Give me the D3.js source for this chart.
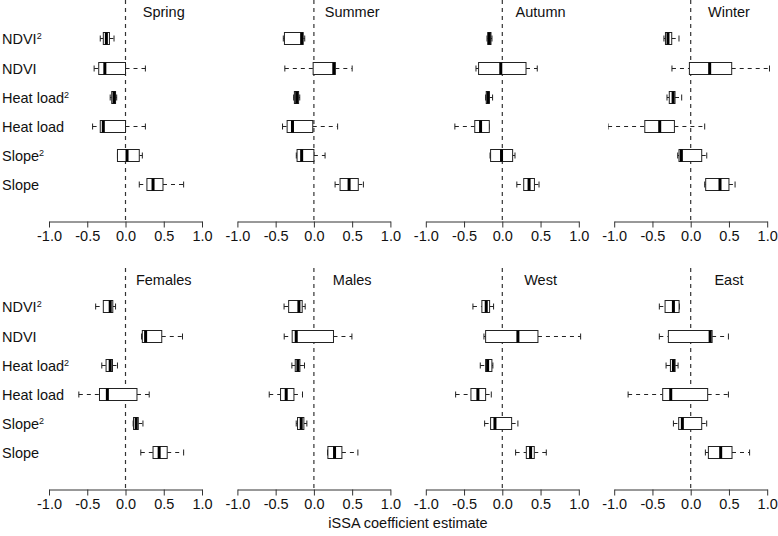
<!DOCTYPE html>
<html lang="en">
<head>
<meta charset="utf-8">
<script src="https://d3js.org/d3.v7.min.js"></script>
<style>
  body { margin: 0; background: #fff; }
  text { font-family: "Liberation Sans", Arial, sans-serif; fill: #111; }
</style>
</head>
<body>
<div id="chart"></div>
<script>
// panel names (row by row)
var panels = ["Spring", "Summer", "Autumn", "Winter", "Females", "Males", "West", "East"];
// covariates, top to bottom
var covariates = ["NDVI", "NDVI", "Heat load", "Heat load", "Slope", "Slope"];
var squared = [true, false, true, false, true, false];
var ticks = [-1, -0.5, 0, 0.5, 1];

// box stats per covariate: [lower whisker, q1, median, q3, upper whisker]
var spring = [
  [-0.33, -0.29, -0.25, -0.21, -0.15],
  [-0.41, -0.35, -0.27, 0.0, 0.26],
  [-0.20, -0.18, -0.15, -0.13, -0.115],
  [-0.43, -0.33, -0.29, 0.0, 0.26],
  [-0.105, -0.105, 0.02, 0.18, 0.22],
  [0.18, 0.28, 0.36, 0.49, 0.76]
];
var summer = [
  [-0.40, -0.385, -0.16, -0.14, -0.12],
  [-0.38, -0.01, 0.26, 0.28, 0.50],
  [-0.265, -0.255, -0.225, -0.20, -0.185],
  [-0.41, -0.35, -0.28, -0.015, 0.31],
  [-0.23, -0.22, -0.16, 0.0, 0.146],
  [0.277, 0.342, 0.46, 0.58, 0.647]
];
var autumn = [
  [-0.20, -0.19, -0.17, -0.148, -0.135],
  [-0.344, -0.31, -0.02, 0.31, 0.457],
  [-0.218, -0.21, -0.185, -0.17, -0.127],
  [-0.62, -0.36, -0.284, -0.17, -0.17],
  [-0.16, -0.153, -0.01, 0.135, 0.166],
  [0.19, 0.28, 0.35, 0.42, 0.48]
];
var winter = [
  [-0.35, -0.33, -0.297, -0.248, -0.153],
  [-0.245, -0.017, 0.248, 0.536, 1.03],
  [-0.31, -0.28, -0.23, -0.205, -0.118],
  [-1.08, -0.60, -0.405, -0.213, 0.183],
  [-0.17, -0.153, -0.122, 0.144, 0.21],
  [0.183, 0.196, 0.383, 0.50, 0.58]
];
var females = [
  [-0.39, -0.29, -0.20, -0.166, -0.13],
  [0.21, 0.22, 0.263, 0.474, 0.745],
  [-0.31, -0.254, -0.20, -0.17, -0.105],
  [-0.61, -0.34, -0.237, 0.15, 0.31],
  [0.10, 0.105, 0.14, 0.167, 0.228],
  [0.20, 0.36, 0.44, 0.545, 0.76]
];
var males = [
  [-0.39, -0.33, -0.196, -0.153, -0.114],
  [-0.388, -0.284, -0.231, 0.256, 0.497],
  [-0.288, -0.244, -0.209, -0.183, -0.123],
  [-0.584, -0.436, -0.362, -0.261, -0.149],
  [-0.231, -0.214, -0.166, -0.131, -0.092],
  [0.178, 0.183, 0.27, 0.366, 0.575]
];
var west = [
  [-0.384, -0.267, -0.21, -0.166, -0.114],
  [-0.24, -0.218, 0.204, 0.466, 1.024],
  [-0.288, -0.218, -0.192, -0.136, -0.123],
  [-0.61, -0.41, -0.319, -0.218, -0.144],
  [-0.231, -0.153, -0.096, 0.122, 0.204],
  [0.174, 0.314, 0.37, 0.418, 0.575]
];
var east = [
  [-0.41, -0.335, -0.226, -0.152, -0.148],
  [-0.41, -0.292, 0.254, 0.28, 0.493],
  [-0.322, -0.265, -0.226, -0.204, -0.165],
  [-0.818, -0.366, -0.261, 0.222, 0.493],
  [-0.226, -0.157, -0.109, 0.144, 0.209],
  [0.192, 0.231, 0.392, 0.54, 0.77]
];
var stats = [spring, summer, autumn, winter, females, males, west, east];

var width = 778, height = 536;
var panelW = 153, panelStep = 188.4, left = 49;
var rowStep = 268;
var boxH = 12, capH = 6;
var ink = "#222";

var svg = d3.select("#chart").append("svg")
  .attr("width", width)
  .attr("height", height);

var defs = svg.append("defs");

panels.forEach(function(name, p) {
  var col = p % 4, row = Math.floor(p / 4);
  var x0 = left + col * panelStep;
  var top = row * rowStep;

  var x = d3.scaleLinear().domain([-1, 1]).range([x0, x0 + panelW]);
  var yScale = d3.scalePoint().domain(d3.range(6)).range([top + 38.3, top + 184.3]);
  var y = i => Math.round(yScale(i)) + 0.5;   // crisp 1px lines
  var axisY = top + 221.5;

  defs.append("clipPath").attr("id", "clip" + p)
    .append("rect")
    .attr("x", x(-1.08)).attr("y", top)
    .attr("width", x(1.08) - x(-1.08)).attr("height", axisY - top);

  var g = svg.append("g").attr("clip-path", "url(#clip" + p + ")");

  // zero line
  g.append("line")
    .attr("x1", x(0)).attr("x2", x(0))
    .attr("y1", top).attr("y2", axisY)
    .attr("stroke", "#333")
    .attr("stroke-width", 1.2)
    .attr("stroke-dasharray", "4,4");

  var boxes = g.selectAll(".box")
    .data(stats[p]).enter()
    .append("g")
    .attr("class", "box");

  // whiskers
  boxes.append("line")
    .attr("x1", d => x(d[0])).attr("x2", d => x(d[1]))
    .attr("y1", (d, i) => y(i)).attr("y2", (d, i) => y(i))
    .attr("stroke", ink).attr("stroke-dasharray", "4,4");
  boxes.append("line")
    .attr("x1", d => x(d[3])).attr("x2", d => x(d[4]))
    .attr("y1", (d, i) => y(i)).attr("y2", (d, i) => y(i))
    .attr("stroke", ink).attr("stroke-dasharray", "4,4");
  // staples
  [0, 4].forEach(function(k) {
    boxes.append("line")
      .attr("x1", d => x(d[k])).attr("x2", d => x(d[k]))
      .attr("y1", (d, i) => y(i) - capH / 2).attr("y2", (d, i) => y(i) + capH / 2)
      .attr("stroke", ink);
  });
  // box
  boxes.append("rect")
    .attr("x", d => x(d[1]))
    .attr("y", (d, i) => y(i) - boxH / 2)
    .attr("width", d => Math.max(0.5, x(d[3]) - x(d[1])))
    .attr("height", boxH)
    .attr("fill", "#fff")
    .attr("stroke", ink);
  // median
  boxes.append("line")
    .attr("x1", d => x(d[2])).attr("x2", d => x(d[2]))
    .attr("y1", (d, i) => y(i) - boxH / 2).attr("y2", (d, i) => y(i) + boxH / 2)
    .attr("stroke", "#000").attr("stroke-width", 3);

  // axis
  var ax = svg.append("g")
    .attr("transform", "translate(0," + axisY + ")")
    .call(d3.axisBottom(x).tickValues(ticks)
      .tickFormat(d => d.toFixed(1))
      .tickSizeInner(6).tickSizeOuter(0));
  ax.attr("font-size", null).attr("font-family", null);
  ax.selectAll("path, line").attr("stroke", "#333");
  ax.selectAll("text").style("font-size", "14.5px").attr("fill", "#111");

  // title
  svg.append("text")
    .attr("x", x(0.5)).attr("y", top + 17)
    .attr("text-anchor", "middle")
    .style("font-size", "14.5px")
    .text(name);

  // row labels on first column
  if (col === 0) {
    covariates.forEach(function(c, i) {
      var t = svg.append("text")
        .attr("x", 2).attr("y", y(i) + 5)
        .style("font-size", "14.5px")
        .text(c);
      if (squared[i]) {
        t.append("tspan")
          .attr("dy", -5)
          .style("font-size", "9px")
          .text("2");
      }
    });
  }
});

svg.append("text")
  .attr("x", 408).attr("y", 528)
  .attr("text-anchor", "middle")
  .style("font-size", "14.5px")
  .text("iSSA coefficient estimate");
</script>
</body>
</html>
